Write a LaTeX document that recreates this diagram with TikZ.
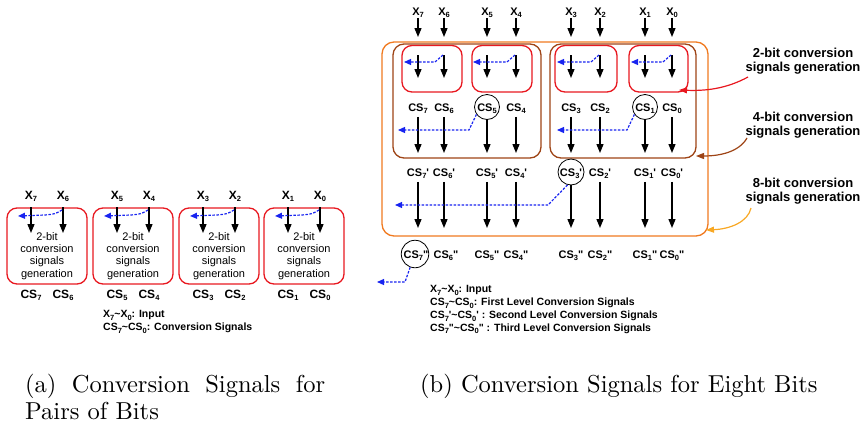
\documentclass[tikz,border=0pt]{standalone}
\usepackage{fontspec}
\newfontfamily\arial{Liberation Sans}
\newfontfamily\capfont{lmroman10-regular.otf}
\usetikzlibrary{arrows.meta}
\definecolor{cred}{RGB}{232,24,32}
\definecolor{cbrown}{RGB}{158,68,22}
\definecolor{corange}{RGB}{240,122,32}
\definecolor{clorange}{RGB}{248,168,36}
\definecolor{cblue}{RGB}{24,36,240}
\newcommand\lo[1]{\raisebox{-2.6pt}{\fontsize{7.5}{7.5}\selectfont #1}}
\newcommand\qs{\textquotesingle}
\begin{document}
\begin{tikzpicture}[x=1pt,y=-1pt,
  lbla/.style={font=\arial\bfseries\fontsize{12}{13}\selectfont, inner sep=0pt, anchor=base},
  lblb/.style={font=\arial\bfseries\fontsize{11}{12}\selectfont, inner sep=0pt, anchor=base},
  gentext/.style={font=\arial\fontsize{11}{12.3}\selectfont, align=center, inner sep=0pt, anchor=north},
  sidetext/.style={font=\arial\bfseries\fontsize{13}{14.5}\selectfont, align=center, inner sep=0pt, anchor=north},
  keytext/.style={font=\arial\bfseries\fontsize{10.5}{12.8}\selectfont, align=left, inner sep=0pt, anchor=north west},
  sig/.style={draw=black, line width=1.3pt, -{Triangle[length=9pt,width=7pt]}},
  cross/.style={draw=cblue, line width=1.2pt, dash pattern=on 2.5pt off 1.5pt, -{Triangle[length=7pt,width=6pt]}},
  redbox/.style={draw=cred, line width=1.3pt, rounded corners=10pt, inner sep=0pt},
  brownbox/.style={draw=cbrown, line width=1.3pt, rounded corners=11pt, inner sep=0pt},
  orangebox/.style={draw=corange, line width=1.3pt, rounded corners=12pt, inner sep=0pt},
  ring/.style={draw=black, line width=0.8pt, circle, inner sep=0pt},
  captext/.style={font=\capfont\fontsize{24.5}{30}\selectfont, inner sep=0pt, anchor=base west},
  callout/.style={line width=1.2pt, -{Triangle[length=8pt,width=6pt]}},
]
\useasboundingbox (0,0) rectangle (867,429);

% ================= (a) =================
\foreach \L/\a/\b [count=\i] in {7/7/6,93/5/4,179/3/2,264/1/0}{
  \node[redbox, minimum width=80pt, minimum height=76pt] (abox\i) at (\L+40,246) {};
  \node[lbla] (ax\a) at (\L+24,199) {X\lo{\a}};
  \node[lbla] (ax\b) at (\L+56,199) {X\lo{\b}};
  \coordinate (aend\a) at (\L+24,233);
  \coordinate (aend\b) at (\L+56,233);
  \draw[sig] (aend\a |- abox\i.north) -- (aend\a);
  \draw[sig] (aend\b |- abox\i.north) -- (aend\b);
  \coordinate (ablue\i) at (\L+11,216);
  \draw[cross] (\L+55,210) .. controls (\L+48,214) .. (\L+38,215) -- (ablue\i);
  \node[gentext] (agen\i) at (\L+40,232) {2-bit\\conversion\\signals\\generation};
  \node[lbla] (acs\a) at (\L+24,298) {CS\lo{\a}};
  \node[lbla] (acs\b) at (\L+56,298) {CS\lo{\b}};
}
\node[keytext] (akey) at (103,310.5) {X\lo{7}\textasciitilde X\lo{0}: Input\\CS\lo{7}\textasciitilde CS\lo{0}: Conversion Signals};

% ================= (b) =================
\node[orangebox, minimum width=326pt, minimum height=194pt] (obox) at (545,139) {};
\node[brownbox, minimum width=148pt, minimum height=114pt] (bboxA) at (467,101) {};
\node[brownbox, minimum width=146pt, minimum height=114pt] (bboxB) at (623,101) {};
\node[redbox, minimum width=60pt, minimum height=46.5pt] (rb1) at (432,68.75) {};
\node[redbox, minimum width=60pt, minimum height=46.5pt] (rb2) at (502,68.75) {};
\node[redbox, minimum width=62pt, minimum height=46.5pt] (rb3) at (586,68.75) {};
\node[redbox, minimum width=59pt, minimum height=46.5pt] (rb4) at (658.5,68.75) {};

\foreach \n/\c in {7/418,6/444,5/487,4/516,3/571,2/600,1/645,0/672}{
  \node[lblb] (bx\n) at (\c,15) {X\lo{\n}};
  \coordinate (bt\n) at (\c,37);
  \draw[sig] (bx\n.south) -- (bt\n);
  \coordinate (rs\n) at (\c,55);
  \coordinate (re\n) at (\c,78);
  \draw[sig] (rs\n) -- (re\n);
  \coordinate (ce\n) at (\c,153);
  \coordinate (de\n) at (\c,228);
}
% intra-pair signals in red boxes
\foreach \cl/\cr/\j in {418/444/1,487/516/2,571/600/3,645/672/4}{
  \coordinate (bl\j) at (\cl-14,62);
  \draw[cross] (\cr-1,55) -- (\cr-9,62) -- (bl\j);
}

% signal labels
\foreach \n/\c in {7/416,6/446,5/487,4/516,3/571,2/600,1/645,0/672}{
  \node[lblb] (cspp\n) at (\c,258) {CS\lo{\n}"};
}
\foreach \n/\c in {7/418,6/444,5/487,4/516,3/571,2/600,1/645,0/672}{
  \node[lblb] (cs\n) at (\c,111) {CS\lo{\n}};
  \node[lblb] (csp\n) at (\c,176) {CS\lo{\n}\qs};
}
\node[ring, minimum size=25pt] (ring5) at (487,107) {};
\node[ring, minimum size=25pt] (ring1) at (645,107) {};
\node[ring, minimum size=26pt] (ring3p) at (571,172) {};
\node[ring, minimum size=27.5pt] (ring7pp) at (415,254) {};

\foreach \n in {7,6,4,3,2,0}{
  \draw[sig, shorten <=3pt] (cs\n) -- (ce\n);
}
\draw[sig] (ring5) -- (ce5);
\draw[sig] (ring1) -- (ce1);
\foreach \n in {7,6,5,4,2,1,0}{
  \draw[sig, shorten <=3pt] (csp\n) -- (de\n);
}
\draw[sig] (ring3p) -- (de3);

\coordinate (blA) at (398,130);
\coordinate (blB) at (557,130);
\coordinate (blC) at (395,205);
\coordinate (blD) at (377,282);
\draw[cross] (ring5.215) -- (469,130) -- (blA);
\draw[cross] (ring1.215) -- (627,130) -- (blB);
\draw[cross] (ring3p.255) -- (548,205) -- (blC);
\draw[cross] (ring7pp.250) -- (405,282) -- (blD);

% side labels
\node[sidetext] (s2) at (803,47.5) {2-bit conversion\\signals generation};
\node[sidetext] (s4) at (803,111.5) {4-bit conversion\\signals generation};
\node[sidetext] (s8) at (803,177.5) {8-bit conversion\\signals generation};
\coordinate (f2) at (748,77);
\coordinate (t2) at (679,90);
\coordinate (f4) at (747,138);
\coordinate (t4) at (696,156);
\coordinate (f8) at (751,208);
\coordinate (t8) at (706,230);
\draw[callout, cred] (f2) .. controls (726,89) and (705,91) .. (t2);
\draw[callout, cbrown] (f4) .. controls (739,152) and (720,156) .. (t4);
\draw[callout, clorange] (f8) .. controls (748,222) and (730,229) .. (t8);

\node[keytext] (bkey) at (430,285.5) {X\lo{7}\textasciitilde X\lo{0}: Input\\
CS\lo{7}\textasciitilde CS\lo{0}: First Level Conversion Signals\\
CS\lo{7}\qs\textasciitilde CS\lo{0}\qs\ : Second Level Conversion Signals\\
CS\lo{7}"\textasciitilde CS\lo{0}" : Third Level Conversion Signals};

% captions
\node[captext] (capa1) at (25,392) {\makebox[300pt][s]{(a) Conversion Signals for}};
\node[captext] (capa2) at (25,419) {Pairs of Bits};
\node[captext] (capb) at (420,392) {(b) Conversion Signals for Eight Bits};
\end{tikzpicture}
\end{document}
